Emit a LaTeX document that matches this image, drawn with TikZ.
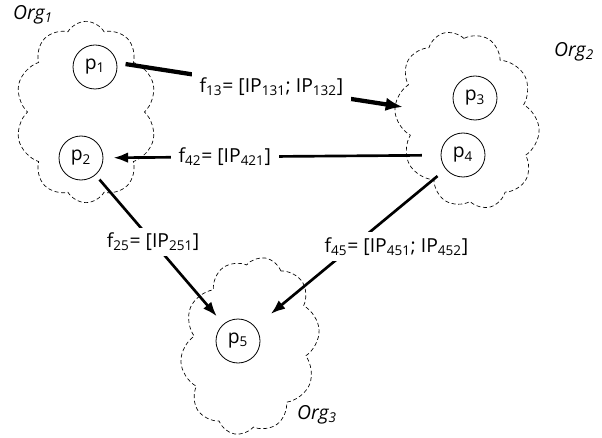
\documentclass[tikz,border=0pt]{standalone}
\usepackage{fontspec}
\setmainfont{Open Sans}
\usetikzlibrary{shapes.symbols,arrows.meta}

\begin{document}
\begin{tikzpicture}[x=0.75pt,y=0.75pt,yscale=-1,xscale=1,
    every node/.style={font=\fontsize{14.5}{17}\selectfont},
    org/.style={draw,dash pattern={on 3pt off 2pt},line width=0.5pt,cloud,cloud puffs=10,cloud puff arc=120,cloud ignores aspect,inner sep=0pt},
    proc/.style={draw,circle,line width=0.6pt,minimum size=33pt,inner sep=0pt},
    flow/.style={line width=2pt,-{Latex[length=11pt,width=8pt]}},
    flowlbl/.style={fill=white,inner xsep=6pt,inner ysep=4pt}]
        \useasboundingbox (0,0) rectangle (602,438);
        %Organisations
        \node [org,minimum width=106pt,minimum height=136pt] (org1) at (86,112) {};
        \node [org,minimum width=106pt,minimum height=135pt,rotate=15] (org2) at (467,120) {};
        \node [org,minimum width=103pt,minimum height=134pt,rotate=-10] (org3) at (250,346) {};
        \node (lorg1) at (33,15) {\itshape Org\textsubscript{1}};
        \node (lorg2) at (574,52) {\itshape Org\textsubscript{2}};
        \node (lorg3) at (317,415) {\itshape Org\textsubscript{3}};
        %Processes
        \node [proc] (p1) at (95,67) {p\textsubscript{1}};
        \node [proc] (p2) at (81,158) {p\textsubscript{2}};
        \node [proc] (p3) at (475,98) {p\textsubscript{3}};
        \node [proc] (p4) at (463,155) {p\textsubscript{4}};
        \node [proc] (p5) at (238,341) {p\textsubscript{5}};
        \coordinate (o2in) at (403,107);
        %Flows
        \draw [flow,line width=3.2pt,-{Latex[length=13pt,width=10pt]},shorten <=6.5pt] (p1.11) -- node [flowlbl,pos=0.54] (l13) {f\textsubscript{13}= [IP\textsubscript{131}; IP\textsubscript{132}]} (o2in);
        \draw [flow,shorten <=14pt,shorten >=7.5pt] (p4) -- node [flowlbl,pos=0.64] (l42) {f\textsubscript{42}= [IP\textsubscript{421}]} (p2);
        \draw [flow,shorten <=4.5pt,shorten >=7.5pt] (p2) -- node [flowlbl,pos=0.45] (l25) {f\textsubscript{25}= [IP\textsubscript{251}]} (p5);
        \draw [flow,shorten <=8pt,shorten >=15pt] (p4) -- node [flowlbl,pos=0.49,xshift=33pt] (l45) {f\textsubscript{45}= [IP\textsubscript{451}; IP\textsubscript{452}]} (p5);
\end{tikzpicture}
\end{document}
